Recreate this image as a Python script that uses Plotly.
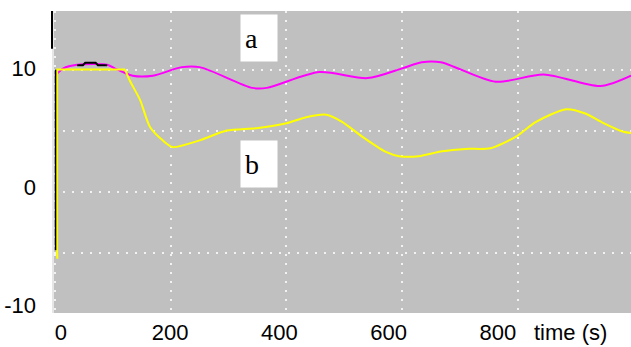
import plotly.graph_objects as go

# series a (magenta)
t_a = [0, 14, 38, 90, 103, 134, 169, 219, 250, 341, 366, 457, 540, 600, 634, 667, 762, 845, 943, 996]
v_a = [9.5, 10.1, 10.4, 10.4, 10.1, 9.5, 9.5, 10.2, 10.2, 8.5, 8.5, 9.8, 9.3, 10.1, 10.6, 10.6, 9.0, 9.6, 8.65, 9.5]

# series b (yellow)
t_b = [3.8, 3.4, 3.4, 121, 129, 147, 164, 186, 203, 250, 297, 348, 400, 434, 469, 497, 531, 572, 595,
       629, 669, 710, 753, 797, 831, 884, 917, 945, 983, 996]
v_b = [-5.5, -5.0, 10.0, 10.0, 9.1, 7.5, 5.3, 4.2, 3.65, 4.2, 5.0, 5.2, 5.6, 6.1, 6.3, 5.7, 4.5, 3.25, 2.9,
       2.9, 3.3, 3.5, 3.55, 4.5, 5.7, 6.75, 6.4, 5.7, 4.9, 4.8]

# dark trace segments
t_k1 = [0.7, 0.7]
v_k1 = [10.0, -4.8]
t_k2 = [38, 48, 52, 70, 74, 90]
v_k2 = [10.35, 10.35, 10.55, 10.55, 10.35, 10.35]

x_ticks = [0, 200, 400, 600, 800]
x_ticktext = ["0", "200", "400", "600", "800"]
y_ticks = [-10, 0, 10]
y_ticktext = ["-10", "0", "10"]

labels = ["a", "b"]
label_t = [353, 353]
label_v = [12.55, 2.3]
axis_title = "time (s)"

FONT = "Liberation Sans Narrow, Liberation Sans, Arial, sans-serif"

fig = go.Figure()
fig.add_trace(go.Scatter(x=t_a, y=v_a, mode="lines", line=dict(color="#ff00ff", width=2, shape="spline", smoothing=0.8),
                         hoverinfo="skip"))
# yellow: initial vertical jump drawn straight, rest smooth
fig.add_trace(go.Scatter(x=t_b[:4], y=v_b[:4], mode="lines", line=dict(color="#ffff00", width=2), hoverinfo="skip"))
fig.add_trace(go.Scatter(x=t_b[3:], y=v_b[3:], mode="lines", line=dict(color="#ffff00", width=2, shape="spline", smoothing=0.7),
                         hoverinfo="skip"))
fig.add_trace(go.Scatter(x=t_k1, y=v_k1, mode="lines", line=dict(color="#000000", width=1.5), hoverinfo="skip"))
fig.add_trace(go.Scatter(x=t_k2, y=v_k2, mode="lines", line=dict(color="#000000", width=2), hoverinfo="skip"))
# invisible trace to activate label axes
fig.add_trace(go.Scatter(x=[0], y=[0], xaxis="x2", yaxis="y2", mode="markers",
                         marker=dict(opacity=0), hoverinfo="skip"))

for txt, tx, tv in zip(labels, label_t, label_v):
    fig.add_annotation(x=tx, y=tv, xref="x", yref="y", text=txt, showarrow=False,
                       bgcolor="white", width=28, height=38, borderpad=4, align="left", valign="middle",
                       font=dict(family="Liberation Serif, Times New Roman, serif", size=28, color="black"))

fig.add_annotation(x=0.896, y=-0.066, xref="paper", yref="paper", text=axis_title, showarrow=False,
                   xanchor="center", yanchor="middle",
                   font=dict(family=FONT, size=22, color="black"))

fig.update_layout(
    width=631, height=347,
    margin=dict(l=54, r=0, t=11, b=34),
    paper_bgcolor="white", plot_bgcolor="#c0c0c0",
    showlegend=False,
    xaxis=dict(range=[-2, 996], tickvals=x_ticks, showticklabels=False, ticks="",
               showgrid=True, gridcolor="#f2f2f2", gridwidth=1.5, griddash="2px,7px",
               zeroline=False, showline=False, fixedrange=True),
    yaxis=dict(range=[-9.95, 14.8], dtick=5, tick0=0, showticklabels=False, ticks="",
               showgrid=True, gridcolor="#f2f2f2", gridwidth=1.5, griddash="2px,7px",
               zeroline=False, showline=True, linecolor="#e6e6e6", linewidth=1.5, fixedrange=True),
    xaxis2=dict(overlaying="x", side="bottom", range=[-12.8, 1044], tickvals=x_ticks, ticktext=x_ticktext,
                showgrid=False, zeroline=False, ticks="", ticklabelstandoff=4,
                tickfont=dict(family=FONT, size=22, color="black"), fixedrange=True),
    yaxis2=dict(overlaying="y", side="left", range=[-10.63, 14.85], tickvals=y_ticks, ticktext=y_ticktext,
                showgrid=False, zeroline=False, ticks="", ticklabelstandoff=17,
                tickfont=dict(family=FONT, size=22, color="black"), fixedrange=True),
)

# black marker bar at top-left outside plot
fig.add_shape(type="line", xref="paper", yref="paper", x0=-0.0035, x1=-0.0035, y0=1.0, y1=0.875,
              line=dict(color="black", width=2))

fig.write_html("out.html")
